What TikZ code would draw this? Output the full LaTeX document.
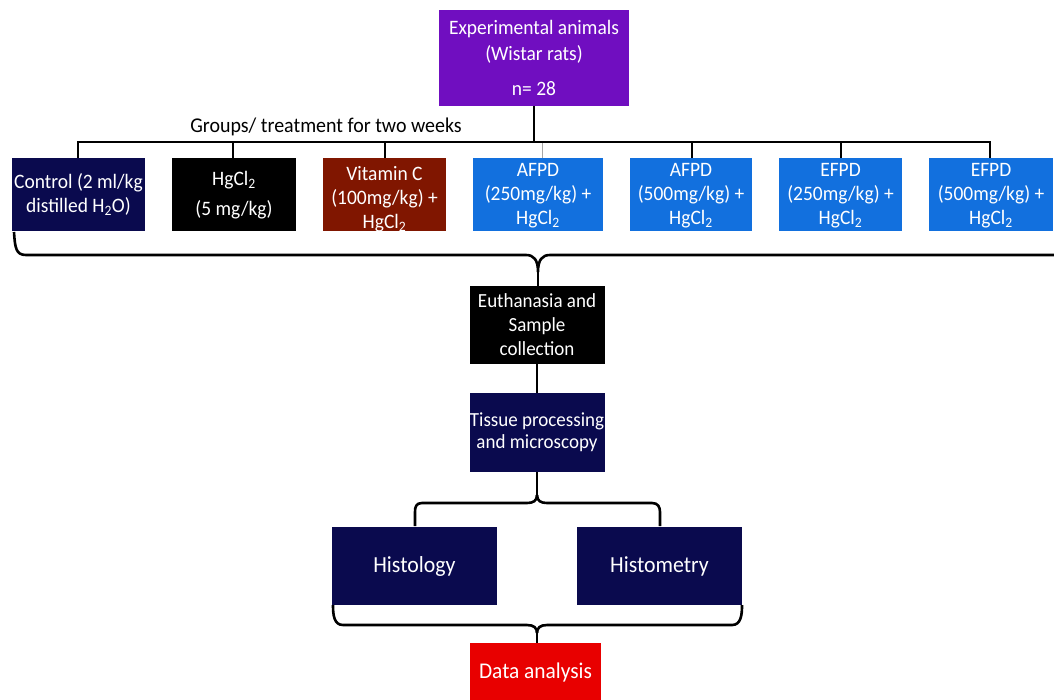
\documentclass[tikz,border=0pt]{standalone}
\usepackage{fontspec}
\setmainfont{Carlito}[FakeStretch=0.95]
\definecolor{cpurple}{RGB}{112,14,192}
\definecolor{cnavy}{RGB}{10,10,78}
\definecolor{cblue}{RGB}{18,112,222}
\definecolor{cbrown}{RGB}{128,22,0}
\definecolor{cred}{RGB}{232,0,0}
\begin{document}
\begin{tikzpicture}[x=1pt,y=-1pt,
  box/.style={rectangle, inner sep=0pt, text=white, align=center, font=\fontsize{20}{24}\selectfont},
  gt/.style={inner sep=0pt, text=white, align=center, font=\fontsize{20.5}{24}\selectfont},
  gbox/.style={rectangle, inner sep=0pt, minimum height=73},
  gtext/.style 2 args={path picture={\node[gt] at ([yshift=#1]path picture bounding box.center) {#2};}},
  conn/.style={draw=black, line width=2.6pt},
  thinconn/.style={draw=gray!70, line width=0.8pt}]
\useasboundingbox (0,0) rectangle (1054,699);
% top
\node[box, fill=cpurple, minimum width=190, minimum height=96, font=\fontsize{20.5}{26}\selectfont] (top) at (534,58)
  {Experimental animals\\(Wistar rats)\\[9pt]n= 28};
% groups
\node[gbox, fill=cnavy, minimum width=133, gtext={0pt}{Control (2 ml/kg\\distilled H\textsubscript{2}O)}] (g1) at (78.5,194.5) {};
\node[gbox, fill=black, minimum width=124, gtext={-1pt}{HgCl\textsubscript{2}\\[6pt](5 mg/kg)}] (g2) at (234,194.5) {};
\node[gbox, fill=cbrown, minimum width=123, gtext={-5pt}{Vitamin C\\(100mg/kg) +\\HgCl\textsubscript{2}}] (g3) at (384.5,194.5) {};
\node[gbox, fill=cblue, minimum width=130, gtext={-1pt}{AFPD\\(250mg/kg) +\\HgCl\textsubscript{2}}] (g4) at (538,194.5) {};
\node[gbox, fill=cblue, minimum width=122, gtext={-1pt}{AFPD\\(500mg/kg) +\\HgCl\textsubscript{2}}] (g5) at (691,194.5) {};
\node[gbox, fill=cblue, minimum width=123, gtext={-1pt}{EFPD\\(250mg/kg) +\\HgCl\textsubscript{2}}] (g6) at (840.5,194.5) {};
\node[gbox, fill=cblue, minimum width=124, gtext={-1pt}{EFPD\\(500mg/kg) +\\HgCl\textsubscript{2}}] (g7) at (991,194.5) {};
\node[font=\fontsize{21}{25}\selectfont, inner sep=0pt] (lbl) at (326,127) {Groups/ treatment for two weeks};
% tree from top
\coordinate (hub) at (534,142);
\coordinate (hl1) at (78,142);
\coordinate (hr1) at (990,142);
\draw[conn] (top.south) -- (hub);
\draw[conn] (g1.north -| hl1) -- (hl1) -- (hr1) -- (g7.north -| hr1);
\draw[conn] (233,142) -- (g2.north -| 233,0);
\draw[conn] (385,142) -- (g3.north -| 385,0);
\draw[thinconn] (542,143) -- (g4.north -| 542,0);
\draw[conn] (692,142) -- (g5.north -| 692,0);
\draw[conn] (841,142) -- (g6.north -| 841,0);
% lower nodes
\node[box, fill=black, minimum width=135, minimum height=78] (eu) at (537,325)
  {Euthanasia and\\Sample\\collection};
\node[box, fill=cnavy, minimum width=135, minimum height=79, font=\fontsize{20}{22}\selectfont] (ts) at (537,432.5)
  {\raisebox{0pt}{Tissue processing}\\and microscopy};
\node[box, fill=cnavy, minimum width=165, minimum height=78, font=\fontsize{23}{27}\selectfont] (hl) at (414.5,566) {Histology};
\node[box, fill=cnavy, minimum width=165, minimum height=78, font=\fontsize{23}{27}\selectfont] (hm) at (659.5,566) {Histometry};
\node[box, fill=cred, minimum width=131, minimum height=58, font=\fontsize{22.5}{27}\selectfont] (da) at (535.5,672) {Data analysis};
% brace 1
\coordinate (b1) at (538,272);
\draw[conn] (14,232) .. controls (15,248) and (16,255) .. (26,255) -- (526,255)
  .. controls (534,255) and (538,260) .. (b1)
  .. controls (538,260) and (542,255) .. (550,255) -- (1070,255);
\draw[conn] (b1) -- (eu.north -| b1);
\draw[conn] (eu.south) -- (ts.north);
% brace 2
\coordinate (b2) at (537,495);
\draw[conn] (ts.south) -- (b2);
\draw[conn] (b2) .. controls (537,501) and (533,503) .. (527,503) -- (422,503)
  .. controls (416,503) and (415,507) .. (415,512) -- (415,526);
\draw[conn] (b2) .. controls (537,501) and (541,503) .. (547,503) -- (652,503)
  .. controls (658,503) and (660,507) .. (660,512) -- (660,526);
% brace 3
\coordinate (b3) at (537,633);
\draw[conn] (333,605) .. controls (333,615) and (334,625) .. (343,625) -- (527,625)
  .. controls (534,625) and (537,628) .. (b3);
\draw[conn] (742,605) .. controls (742,615) and (741,625) .. (732,625) -- (547,625)
  .. controls (540,625) and (537,628) .. (b3);
\draw[conn] (b3) -- (da.north -| b3);
\end{tikzpicture}
\end{document}
